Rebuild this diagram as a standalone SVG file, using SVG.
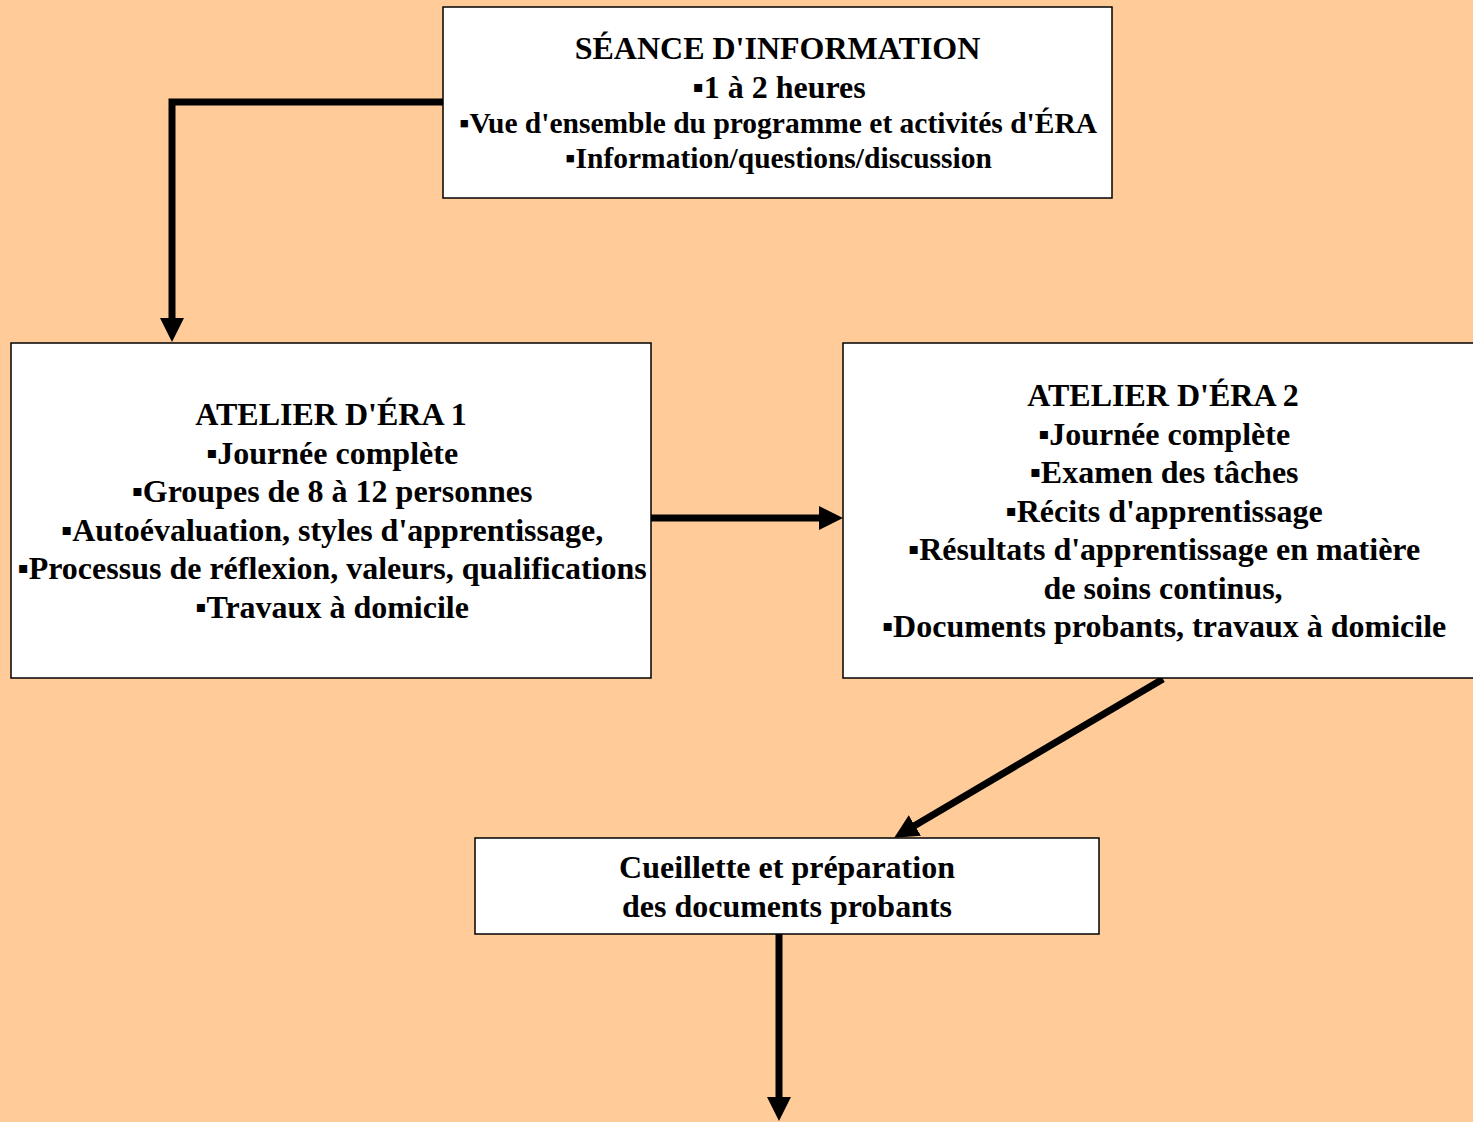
<svg xmlns="http://www.w3.org/2000/svg" width="1473" height="1122" viewBox="0 0 1473 1122">
<style>
.box{fill:#fff;stroke:#000;stroke-width:1.5}
.t{font-family:"Liberation Serif","Times New Roman",serif;font-weight:bold;fill:#000;text-anchor:middle}
.f32{font-size:32px}
.f29{font-size:29.5px}
.con{fill:none;stroke:#000;stroke-width:7}
</style>
<defs>
<marker id="ah" viewBox="0 0 24 24" refX="1" refY="12" markerWidth="24" markerHeight="24" markerUnits="userSpaceOnUse" orient="auto">
<path d="M0,0 L24,12 L0,24 Z" fill="#000"/>
</marker>
</defs>
<rect width="1473" height="1122" fill="#FFCC99"/>
<g id="connectors">
<path class="con" d="M443,102 H172 V319" marker-end="url(#ah)"/>
<path class="con" d="M651,518 H820" marker-end="url(#ah)"/>
<path class="con" d="M1163,679 L914,826" marker-end="url(#ah)"/>
<path class="con" d="M779,934 V1098" marker-end="url(#ah)"/>
</g>
<g id="seance">
<rect class="box" x="443" y="7" width="669" height="191"/>
<text class="t f32" x="777.5" y="59">SÉANCE D'INFORMATION</text>
<text class="t f32" x="779" y="98">▪1 à 2 heures</text>
<text class="t f29" x="778" y="133">▪Vue d'ensemble du programme et activités d'ÉRA</text>
<text class="t f29" x="778.5" y="168">▪Information/questions/discussion</text>
</g>
<g id="atelier1">
<rect class="box" x="11" y="343" width="640" height="335"/>
<text class="t f32" x="331" y="425">ATELIER D'ÉRA 1</text>
<text class="t f32" x="332" y="463.5">▪Journée complète</text>
<text class="t f32" x="332" y="502">▪Groupes de 8 à 12 personnes</text>
<text class="t f32" x="332" y="540.5">▪Autoévaluation, styles d'apprentissage,</text>
<text class="t f32" x="332" y="579">▪Processus de réflexion, valeurs, qualifications</text>
<text class="t f32" x="332" y="617.5">▪Travaux à domicile</text>
</g>
<g id="atelier2">
<rect class="box" x="843" y="343" width="640" height="335"/>
<text class="t f32" x="1163" y="406">ATELIER D'ÉRA 2</text>
<text class="t f32" x="1164" y="444.5">▪Journée complète</text>
<text class="t f32" x="1164" y="483">▪Examen des tâches</text>
<text class="t f32" x="1164" y="521.5">▪Récits d'apprentissage</text>
<text class="t f32" x="1164" y="560">▪Résultats d'apprentissage en matière</text>
<text class="t f32" x="1163" y="598.5">de soins continus,</text>
<text class="t f32" x="1164" y="637">▪Documents probants, travaux à domicile</text>
</g>
<g id="cueillette">
<rect class="box" x="475" y="838" width="624" height="96"/>
<text class="t f32" x="787" y="878">Cueillette et préparation</text>
<text class="t f32" x="787" y="917">des documents probants</text>
</g>
</svg>
